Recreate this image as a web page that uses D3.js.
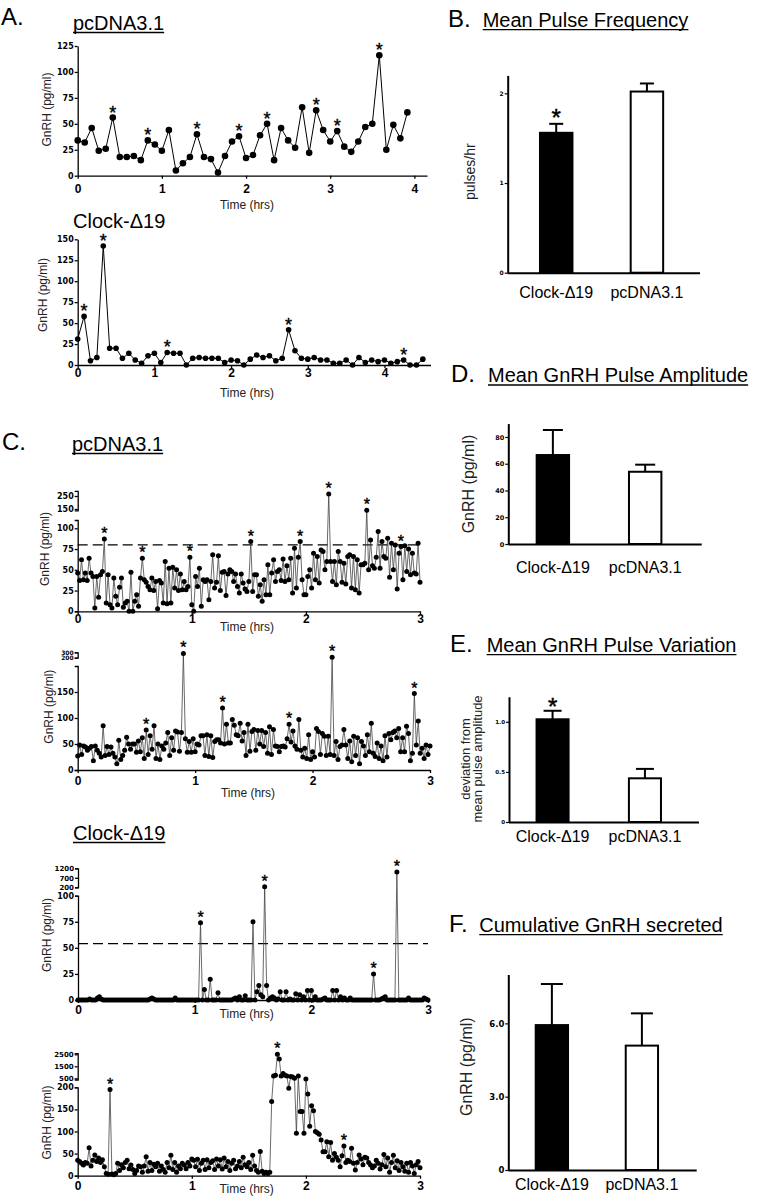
<!DOCTYPE html>
<html>
<head>
<meta charset="utf-8">
<script src="https://d3js.org/d3.v7.min.js"></script>
<style>
  body { margin: 0; background: #fff; }
</style>
</head>
<body>
<svg id="fig" width="758" height="1199"></svg>
<script>
// ---- data ----

// A: 5-min sampling
var pcA = [34,32,46,24,26,56,18,18,19,15, 34,30,24,44,5,12,18,40,18,16,
           3,19,33,38,17,20,39,50,15,46, 34,27,66,22,63,44,33,43,28,23,
           33,47,50,116,25,49,36,61];
var pcAStars = [5,10,17,23,27,34,37,43];

var clkA = [31,58,5,9,142,20,20,8,14,6, 2,11,14,3,15,14,14,0,8,9,
            8,8,8,3,6,5,0,7,12,9, 11,5,8,42,17,8,7,9,6,6,
            2,2,6,0,9,3,6,4,6,2, 4,6,0,0,7];
var clkAStars = [1,4,14,33,51];

// C: 1-min sampling, 3 h
var pcC1 = [46,37,62,38,46,37,64,46,42,4, 42,17,44,48,87,10,44,8,4,40,
            18,8,29,40,5,10,12,0,47,0, 12,20,6,40,64,38,35,30,26,40,
            25,36,3,37,34,10,60,9,52,10, 53,28,50,25,45,26,36,26,30,65,
            8,0,42,30,52,6,38,36,38,14, 36,68,28,35,67,25,47,48,19,45,
            50,48,36,45,30,22,45,34,27,24, 36,84,24,44,44,18,32,12,38,20,
            56,20,46,62,36,48,50,37,63,36, 55,38,64,22,76,28,65,84,38,20,
            20,42,50,28,70,38,66,34,74,72, 50,60,265,60,36,60,32,72,60,35,
            58,33,66,68,28,66,26,62,22,56, 56,58,140,50,86,55,52,65,96,52,
            84,66,64,88,41,82,50,80,27,70, 78,38,79,48,75,44,70,46,45,82,35];
var pcC1Stars = [14,34,59,91,117,132,152,170];

var pcC2 = [27,48,30,46,44,38,42,45,18,46, 38,32,25,85,28,45,30,44,32,25,
            12,57,20,28,38,63,50,40,50,50, 34,56,35,62,22,77,30,66,40,85,
            22,50,20,46,40,52,72,28,62,38, 75,73,36,72,280,60,34,55,34,60,
            35,50,48,66,66,28,68,26,66,24, 55,58,58,52,119,50,88,52,52,97,
            86,68,66,90,56,72,28,88,36,74, 78,38,76,50,76,45,72,32,83,30,
            78,46,45,35,45,46,44,60,88,54, 75,46,40,97,38,25,42,22,68,20,
            35,25,80,74,30,70,65,28,65,30, 210,28,55,20,45,48,78,48,22,56,
            16,65,28,62,12,55,46,28,68,35, 90,32,26,52,22,46,18,66,25,70,
            58,72,75,62,80,35,62,35,84,70, 18,32,147,48,94,32,42,22,48,30,46];
var pcC2Stars = [35,54,74,108,130,172];

var clkC1 = [0,0,0,0,0,0,1,0,0,0, 2,3,1,0,0,0,0,0,0,0,
             0,0,0,0,0,0,0,0,0,0, 0,0,0,0,0,0,0,1,2,1,
             0,0,0,0,0,0,0,0,0,0, 2,0,0,0,0,0,0,0,0,0,
             0,0,0,74,0,10,0,0,20,0, 0,0,7,0,0,0,0,0,0,0,
             1,2,0,3,0,0,4,0,0,0, 75,0,8,14,5,3,230,14,0,2,
             3,2,0,1,8,0,0,8,0,1, 0,0,6,0,5,0,3,0,9,0,
             9,0,3,0,0,0,1,2,0,0, 0,9,0,9,0,3,0,2,0,0,
             2,0,0,0,0,0,0,0,0,0, 0,0,25,0,0,0,1,2,3,0,
             0,0,0,0,1000,0,0,0,0,0, 2,0,0,0,0,0,0,0,2,1,0];
var clkC1Stars = [63,96,152,164];

var clkC2 = [35,32,28,24,30,28,63,22,35,47, 32,40,30,36,20,5,3,195,4,2,
             5,28,12,25,18,30,35,16,24,14, 5,12,22,20,8,22,43,10,30,12,
             26,20,28,10,22,14,8,30,18,46, 14,30,8,22,16,28,24,16,30,22,
             38,35,20,37,12,28,35,14,36,18, 30,34,14,38,22,36,15,40,20,32,
             12,28,35,16,22,32,18,42,25,20, 30,14,46,22,12,8,55,10,5,8,
             5,8,168,700,750,2500,2100,700,900,750, 700,198,650,600,500,96,700,145,145,96,
             450,185,112,158,147,100,97,94,81,54, 54,77,43,75,35,50,42,35,20,45,
             67,30,35,32,62,28,13,30,47,38, 25,42,40,30,24,18,22,35,28,15,
             25,48,20,40,8,30,46,18,34,12, 30,20,10,28,8,30,22,5,25,32,18];
var clkC2Stars = [17,105,140];

// bar panels
var groups = ["Clock-\u0394" + "19", "pcDNA3.1"];
var freqMean = [1.56, 2.02], freqSem = [0.10, 0.09];
var ampMean = [66.5, 54], ampSem = [18.7, 5.3];
var varMean = [1.025, 0.436], varSem = [0.085, 0.094];
var cumMean = [5.93, 5.09], cumSem = [1.68, 1.32];

// ---- drawing ----
var svg = d3.select("#fig");
var sans = "'Liberation Sans', Arial, sans-serif";
var tickFont = "'DejaVu Sans', sans-serif";

function styleAxis(sel, font, size, width) {
  sel.attr("font-family", font).attr("font-size", size).attr("font-weight", "bold");
  sel.selectAll("path, line").attr("stroke", "#000").attr("stroke-width", width);
  sel.selectAll("text").attr("fill", "#000");
}

function txt(x, y, s, size, opts) {
  opts = opts || {};
  var t = svg.append("text")
    .attr("x", x).attr("y", y)
    .attr("font-family", sans)
    .attr("font-size", size)
    .attr("fill", opts.fill || "#000")
    .attr("text-anchor", opts.anchor || "start")
    .text(s);
  if (opts.underline) {
    var w = t.node().getComputedTextLength();
    svg.append("line")
      .attr("x1", x).attr("x2", x + w)
      .attr("y1", y + opts.underline).attr("y2", y + opts.underline)
      .attr("stroke", "#000").attr("stroke-width", 1.3);
  }
  return t;
}

function vlabel(x, y, s, size) {
  svg.append("text")
    .attr("transform", `translate(${x},${y}) rotate(-90)`)
    .attr("text-anchor", "middle")
    .attr("dominant-baseline", "central")
    .attr("font-family", sans)
    .attr("font-size", size)
    .attr("fill", "#222")
    .text(s);
}

function trace(o) {
  var x = d3.scaleLinear().domain(o.xDomain).range(o.xRange);
  var yLo = d3.scaleLinear().domain(o.yLo).range(o.yLoRange);
  var yHi = o.yHi ? d3.scaleLinear().domain(o.yHi).range(o.yHiRange) : null;
  var y = function(v) { return (yHi && v > o.yLo[1]) ? yHi(v) : yLo(v); };
  var g = svg.append("g");

  var xa = g.append("g")
    .attr("transform", `translate(0,${o.yLoRange[0]})`)
    .call(d3.axisBottom(x).tickValues(o.xTicks).tickFormat(d3.format("d"))
      .tickSize(3).tickPadding(o.xPad).tickSizeOuter(0));
  styleAxis(xa, sans, 12, 1.3);

  var ya = g.append("g")
    .attr("transform", `translate(${o.xRange[0]},0)`)
    .call(d3.axisLeft(yLo).tickValues(o.yLoTicks).tickFormat(d3.format("d"))
      .tickSize(3).tickPadding(1).tickSizeOuter(yHi ? 3 : 0));
  styleAxis(ya, tickFont, 8, 1.3);

  if (yHi) {
    var yb = g.append("g")
      .attr("transform", `translate(${o.xRange[0]},0)`)
      .call(d3.axisLeft(yHi).tickValues(o.yHiTicks).tickFormat(d3.format("d"))
        .tickSize(3).tickPadding(1).tickSizeOuter(3));
    styleAxis(yb, tickFont, o.hiFont || 8, 1.3);
  }

  if (o.thresh) {
    g.append("line")
      .attr("x1", o.xRange[0]).attr("x2", o.xRange[1])
      .attr("y1", yLo(o.thresh)).attr("y2", yLo(o.thresh))
      .attr("stroke", "#000").attr("stroke-width", 1.2)
      .attr("stroke-dasharray", "10,5");
  }

  var pts = o.data.map(function(v, i) { return {t: i * o.step, v: v}; });

  g.append("path")
    .datum(pts)
    .attr("fill", "none")
    .attr("stroke", o.lineColor || "#000")
    .attr("stroke-width", o.lw)
    .attr("d", d3.line().x(d => x(d.t)).y(d => y(d.v)));

  g.selectAll("circle.pt")
    .data(pts)
    .join("circle")
    .attr("class", "pt")
    .attr("cx", d => x(d.t))
    .attr("cy", d => y(d.v))
    .attr("r", o.r)
    .attr("fill", "#000");

  g.selectAll("text.star")
    .data(o.stars)
    .join("text")
    .attr("class", "star")
    .attr("x", i => x(pts[i].t))
    .attr("y", i => y(pts[i].v) - o.starGap)
    .attr("text-anchor", "middle")
    .attr("font-family", sans)
    .attr("font-size", o.starSize)
    .attr("fill", "#000")
    .attr("stroke", "#000")
    .attr("stroke-width", 0.4)
    .text("*");

  vlabel(o.yl[0], o.yl[1], "GnRH (pg/ml)", 12);
  txt(o.xl[0], o.xl[1] + 4, "Time (hrs)", 12, {anchor: "middle", fill: "#222"});
}

function bars(o) {
  var x = d3.scaleBand().domain(groups).range(o.xRange)
    .paddingInner(o.pi).paddingOuter(o.po).align(o.al);
  var y = d3.scaleLinear().domain(o.yDomain).range(o.yRange);
  var g = svg.append("g");

  g.selectAll("rect")
    .data(o.mean)
    .join("rect")
    .attr("x", (d, i) => x(groups[i]))
    .attr("width", x.bandwidth())
    .attr("y", d => y(d))
    .attr("height", d => y(0) - y(d))
    .attr("fill", (d, i) => i === 0 ? "#000" : "#fff")
    .attr("stroke", "#000")
    .attr("stroke-width", 2);

  var cx = i => x(groups[i]) + x.bandwidth() / 2;
  o.mean.forEach(function(m, i) {
    g.append("line")
      .attr("x1", cx(i)).attr("x2", cx(i))
      .attr("y1", y(m)).attr("y2", y(m + o.sem[i]))
      .attr("stroke", "#000").attr("stroke-width", 2);
    g.append("line")
      .attr("x1", cx(i) - o.cap).attr("x2", cx(i) + o.cap)
      .attr("y1", y(m + o.sem[i])).attr("y2", y(m + o.sem[i]))
      .attr("stroke", "#000").attr("stroke-width", 2);
  });

  if (o.star !== undefined) {
    var i = o.star;
    g.append("text")
      .attr("x", cx(i))
      .attr("y", y(o.mean[i] + o.sem[i]) - o.starGap)
      .attr("text-anchor", "middle")
      .attr("font-family", sans)
      .attr("font-size", 24)
      .attr("stroke", "#000")
      .attr("stroke-width", 0.5)
      .text("*");
  }

  var xa = g.append("g")
    .attr("transform", `translate(0,${o.yRange[0]})`)
    .call(d3.axisBottom(x).tickSize(0).tickPadding(o.catPad));
  styleAxis(xa, sans, 16, 2);
  xa.attr("font-weight", "normal");
  xa.select(".domain").attr("d", `M${o.xRange[0]},0.5H${o.xRange[1]}`);

  var ya = g.append("g")
    .attr("transform", `translate(${o.xRange[0]},0)`)
    .call(d3.axisLeft(y).tickValues(o.yTicks).tickFormat(o.fmt)
      .tickSize(3).tickPadding(1).tickSizeOuter(0));
  styleAxis(ya, tickFont, o.tickSize, 2);
  ya.selectAll(".tick line").attr("stroke-width", 1.2);
}

// ---- panel A ----
txt(1, 25, "A.", 24);
txt(73, 30, "pcDNA3.1", 20, {underline: 2.5});
trace({
  data: pcA, stars: pcAStars, step: 5 / 60,
  xDomain: [0, 4.15], xRange: [77.7, 427], xTicks: [0, 1, 2, 3, 4], xPad: 6,
  yLo: [0, 125], yLoRange: [175.7, 46], yLoTicks: [0, 25, 50, 75, 100, 125],
  r: 3.3, lw: 1, starSize: 18, starGap: -1,
  yl: [46.7, 109.5], xl: [247, 205]
});

txt(73, 228.3, "Clock-\u0394" + "19", 20);
trace({
  data: clkA, stars: clkAStars, step: 5 / 60,
  xDomain: [0, 4.6], xRange: [77.7, 430.5], xTicks: [0, 1, 2, 3, 4], xPad: 0,
  yLo: [0, 150], yLoRange: [365, 239.3], yLoTicks: [0, 25, 50, 75, 100, 125, 150],
  r: 2.8, lw: 1, starSize: 18, starGap: -1,
  yl: [43.3, 295], xl: [247, 393]
});

// ---- panel C ----
txt(2, 450, "C.", 24);
txt(72, 451, "pcDNA3.1", 20, {underline: 2.5});
trace({
  data: pcC1, stars: pcC1Stars, step: 1 / 60,
  xDomain: [0, 3], xRange: [77.7, 420], xTicks: [0, 1, 2, 3], xPad: 0.5,
  yLo: [0, 110], yLoRange: [611.3, 520], yLoTicks: [0, 25, 50, 75, 100],
  yHi: [140, 290], yHiRange: [510.3, 490.8], yHiTicks: [150, 250],
  thresh: 80, r: 2.5, lw: 0.8, lineColor: "#444", starSize: 16, starGap: 0,
  yl: [45, 549], xl: [247, 627]
});

trace({
  data: pcC2, stars: pcC2Stars, step: 1 / 60,
  xDomain: [0, 3], xRange: [77.7, 430], xTicks: [0, 1, 2, 3], xPad: 3.4,
  yLo: [0, 200], yLoRange: [770, 666], yLoTicks: [0, 50, 100, 150],
  yHi: [200, 300], yHiRange: [657.7, 652.3], yHiTicks: [200, 300], hiFont: 6,
  r: 2.5, lw: 0.8, lineColor: "#444", starSize: 16, starGap: 0,
  yl: [49.3, 706.7], xl: [248, 793.3]
});

txt(73, 840, "Clock-\u0394" + "19", 20, {underline: 2.5});
trace({
  data: clkC1, stars: clkC1Stars, step: 1 / 60,
  xDomain: [0, 3], xRange: [78, 428], xTicks: [0, 1, 2, 3], xPad: 2.7,
  yLo: [0, 100], yLoRange: [1000, 895.7], yLoTicks: [0, 25, 50, 75, 100],
  yHi: [200, 1200], yHiRange: [887.3, 868.3], yHiTicks: [200, 700, 1200], hiFont: 7,
  thresh: 54, r: 2.5, lw: 0.8, lineColor: "#444", starSize: 16, starGap: 0,
  yl: [46.7, 935], xl: [246.7, 1014]
});

trace({
  data: clkC2, stars: clkC2Stars, step: 1 / 60,
  xDomain: [0, 3], xRange: [77.7, 420], xTicks: [0, 1, 2, 3], xPad: 2.7,
  yLo: [0, 200], yLoRange: [1175.7, 1087.3], yLoTicks: [0, 50, 100, 150, 200],
  yHi: [400, 2600], yHiRange: [1079.5, 1053.1], yHiTicks: [500, 1500, 2500], hiFont: 7,
  r: 2.5, lw: 0.8, lineColor: "#444", starSize: 16, starGap: 0,
  yl: [46.7, 1122.5], xl: [246.7, 1189]
});

// ---- panel B ----
txt(448, 26.7, "B.", 24);
txt(482.7, 26.7, "Mean Pulse Frequency", 20, {underline: 3});
bars({
  mean: freqMean, sem: freqSem, star: 0, starGap: -2,
  xRange: [507.7, 700], pi: 0.642, po: 0.381, al: 0.467,
  yDomain: [0, 2.2], yRange: [272.7, 75.4], yTicks: [0, 1, 2], fmt: d3.format("d"),
  tickSize: 6, catPad: 14, cap: 7
});
vlabel(470, 171.7, "pulses/hr", 14);

// ---- panel D ----
txt(451, 382, "D.", 24);
txt(488, 382, "Mean GnRH Pulse Amplitude", 20, {underline: 3});
bars({
  mean: ampMean, sem: ampSem,
  xRange: [508.3, 701.7], pi: 0.649, po: 0.372, al: 0.413,
  yDomain: [0, 90], yRange: [544, 423.6], yTicks: [0, 20, 40, 60, 80], fmt: d3.format("d"),
  tickSize: 6.5, catPad: 18, cap: 10
});
vlabel(468.3, 484, "GnRH (pg/ml)", 16);

// ---- panel E ----
txt(450, 651.7, "E.", 24);
txt(486.7, 651.7, "Mean GnRH Pulse Variation", 20, {underline: 3});
bars({
  mean: varMean, sem: varSem, star: 0, starGap: -4,
  xRange: [509, 699], pi: 0.653, po: 0.355, al: 0.42,
  yDomain: [0, 1.25], yRange: [822, 696.75], yTicks: [0, 0.5, 1.0],
  fmt: d => d === 0 ? "0" : d3.format(".1f")(d),
  tickSize: 5.5, catPad: 9, cap: 9
});
vlabel(465.7, 759, "deviation from", 13);
vlabel(477, 759, "mean pulse amplitude", 13);

// ---- panel F ----
txt(449, 931.7, "F.", 24);
txt(479.3, 931.7, "Cumulative GnRH secreted", 20, {underline: 3});
bars({
  mean: cumMean, sem: cumSem,
  xRange: [508.3, 696.7], pi: 0.641, po: 0.367, al: 0.415,
  yDomain: [0, 8], yRange: [1170, 974.5], yTicks: [0, 3, 6],
  fmt: d => d === 0 ? "0" : d3.format(".1f")(d),
  tickSize: 8.5, catPad: 9, cap: 11
});
vlabel(466.7, 1066.7, "GnRH (pg/ml)", 16);
</script>
</body>
</html>
